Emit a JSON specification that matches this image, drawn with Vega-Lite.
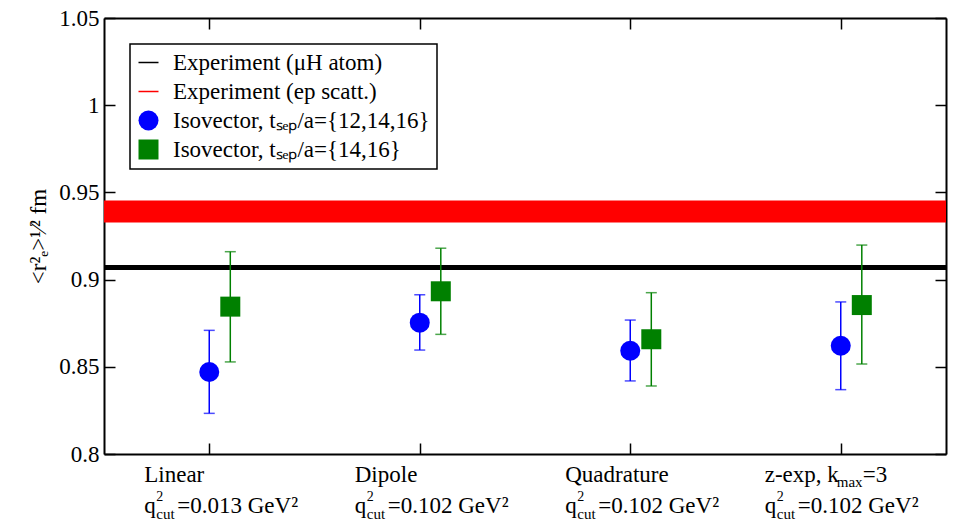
{
  "$schema": "https://vega.github.io/schema/vega-lite/v6.json",
  "width": 842,
  "height": 436,
  "autosize": "none",
  "padding": {"left": 104, "top": 18, "right": 9, "bottom": 75},
  "background": "white",
  "config": {
    "view": {"stroke": null},
    "font": "Liberation Serif",
    "text": {"font": "Liberation Serif"},
    "axis": {
      "grid": false,
      "domainColor": "black",
      "domainWidth": 2,
      "tickColor": "black",
      "tickWidth": 1.5,
      "tickSize": -11,
      "labelFont": "Liberation Serif",
      "labelFontSize": 23,
      "labelColor": "black",
      "titleFont": "Liberation Serif",
      "titleFontSize": 23,
      "titleColor": "black",
      "titleFontWeight": "normal"
    }
  },
  "datasets": {
    "points": [
      {"method": "Linear", "series": "Isovector, tₛₑₚ/a={12,14,16}", "x": 1.0, "r": 0.847, "lo": 0.8233, "hi": 0.8709},
      {"method": "Linear", "series": "Isovector, tₛₑₚ/a={14,16}", "x": 1.1, "r": 0.8845, "lo": 0.8528, "hi": 0.916},
      {"method": "Dipole", "series": "Isovector, tₛₑₚ/a={12,14,16}", "x": 2.0, "r": 0.8753, "lo": 0.8596, "hi": 0.8913},
      {"method": "Dipole", "series": "Isovector, tₛₑₚ/a={14,16}", "x": 2.1, "r": 0.8933, "lo": 0.8686, "hi": 0.918},
      {"method": "Quadrature", "series": "Isovector, tₛₑₚ/a={12,14,16}", "x": 3.0, "r": 0.8592, "lo": 0.8419, "hi": 0.8768},
      {"method": "Quadrature", "series": "Isovector, tₛₑₚ/a={14,16}", "x": 3.1, "r": 0.8658, "lo": 0.839, "hi": 0.8925},
      {"method": "z-exp", "series": "Isovector, tₛₑₚ/a={12,14,16}", "x": 4.0, "r": 0.8621, "lo": 0.8369, "hi": 0.8872},
      {"method": "z-exp", "series": "Isovector, tₛₑₚ/a={14,16}", "x": 4.1, "r": 0.8854, "lo": 0.8516, "hi": 0.9198}
    ],
    "methods": [
      {"pos": 1, "name": "Linear", "sub": "", "rest": "", "q": "=0.013 GeV²"},
      {"pos": 2, "name": "Dipole", "sub": "", "rest": "", "q": "=0.102 GeV²"},
      {"pos": 3, "name": "Quadrature", "sub": "", "rest": "", "q": "=0.102 GeV²"},
      {"pos": 4, "name": "z-exp, k", "sub": "max", "rest": "=3", "q": "=0.102 GeV²"}
    ]
  },
  "layer": [
    {
      "data": {"values": [{"series": "Experiment (ep scatt.)", "lo": 0.9327, "hi": 0.9453}]},
      "mark": {"type": "rect"},
      "encoding": {
        "y": {
          "field": "lo", "type": "quantitative",
          "scale": {"domain": [0.8, 1.05], "nice": false, "zero": false},
          "axis": {
            "orient": "left",
            "values": [0.8, 0.85, 0.9, 0.95, 1, 1.05],
            "format": "~g",
            "labelPadding": 16,
            "title": "<r²ₑ>¹⁄² fm",
            "titlePadding": 8
          }
        },
        "y2": {"field": "hi"},
        "color": {
          "field": "series", "type": "nominal",
          "scale": {
            "domain": ["Experiment (μH atom)", "Experiment (ep scatt.)", "Isovector, tₛₑₚ/a={12,14,16}", "Isovector, tₛₑₚ/a={14,16}"],
            "range": ["#000000", "#ff0000", "#0000ff", "#008000"]
          },
          "legend": {
            "orient": "none",
            "legendX": 26,
            "legendY": 26,
            "title": null,
            "labelFont": "Liberation Serif",
            "labelFontSize": 23,
            "labelColor": "black",
            "labelLimit": 500,
            "strokeColor": "black",
            "padding": 7,
            "rowPadding": 5,
            "labelOffset": 13,
            "encode": {
              "legend": {"update": {"strokeWidth": {"value": 1.5}}},
              "symbols": {
                "update": {
                  "fill": {"signal": "datum.index < 2 ? 'transparent' : scale('color', datum.value)"},
                  "stroke": {"signal": "scale('color', datum.value)"},
                  "strokeWidth": {"signal": "datum.index < 2 ? 1.5 : 0"},
                  "size": {"signal": "datum.index == 3 ? 256 : 484"},
                  "opacity": {"value": 1}
                }
              }
            }
          }
        }
      }
    },
    {
      "data": {"values": [{"series": "Experiment (μH atom)", "r": 0.907}]},
      "mark": {"type": "rule", "strokeWidth": 5},
      "encoding": {
        "y": {"field": "r", "type": "quantitative", "axis": null},
        "color": {"field": "series", "type": "nominal"}
      }
    },
    {
      "data": {"name": "points"},
      "mark": {"type": "rule", "strokeWidth": 1.5},
      "encoding": {
        "x": {
          "field": "x", "type": "quantitative",
          "scale": {"domain": [0.5, 4.5], "nice": false, "zero": false},
          "axis": {"orient": "bottom", "values": [1, 2, 3, 4], "labels": false, "title": null}
        },
        "y": {"field": "lo", "type": "quantitative", "axis": null},
        "y2": {"field": "hi"},
        "color": {"field": "series", "type": "nominal"}
      }
    },
    {
      "data": {"name": "points"},
      "mark": {"type": "tick", "orient": "horizontal", "size": 11, "thickness": 1.5},
      "encoding": {
        "x": {"field": "x", "type": "quantitative", "axis": null},
        "y": {"field": "lo", "type": "quantitative", "axis": null},
        "color": {"field": "series", "type": "nominal"}
      }
    },
    {
      "data": {"name": "points"},
      "mark": {"type": "tick", "orient": "horizontal", "size": 11, "thickness": 1.5},
      "encoding": {
        "x": {"field": "x", "type": "quantitative", "axis": null},
        "y": {"field": "hi", "type": "quantitative", "axis": null},
        "color": {"field": "series", "type": "nominal"}
      }
    },
    {
      "data": {"name": "points"},
      "mark": {"type": "point", "filled": true, "opacity": 1},
      "encoding": {
        "x": {
          "field": "x", "type": "quantitative",
          "axis": {"orient": "top", "values": [1, 2, 3, 4], "labels": false, "title": null}
        },
        "y": {
          "field": "r", "type": "quantitative",
          "axis": {"orient": "right", "values": [0.8, 0.85, 0.9, 0.95, 1, 1.05], "labels": false, "title": null}
        },
        "color": {"field": "series", "type": "nominal"},
        "shape": {
          "field": "series", "type": "nominal",
          "scale": {
            "domain": ["Experiment (μH atom)", "Experiment (ep scatt.)", "Isovector, tₛₑₚ/a={12,14,16}", "Isovector, tₛₑₚ/a={14,16}"],
            "range": ["stroke", "stroke", "circle", "square"]
          }
        },
        "size": {
          "field": "series", "type": "nominal",
          "scale": {
            "domain": ["Experiment (μH atom)", "Experiment (ep scatt.)", "Isovector, tₛₑₚ/a={12,14,16}", "Isovector, tₛₑₚ/a={14,16}"],
            "range": [400, 400, 361, 225]
          },
          "legend": null
        }
      }
    },
    {
      "data": {"name": "methods"},
      "mark": {"type": "text", "align": "left", "baseline": "alphabetic", "font": "Liberation Serif", "fontSize": 23, "color": "black", "dx": {"expr": "datum.pos == 4 ? -76 : -65"}, "dy": 28},
      "encoding": {
        "x": {"field": "pos", "type": "quantitative", "axis": null},
        "y": {"datum": 0.8, "type": "quantitative", "axis": null},
        "text": {"field": "name"}
      }
    },
    {
      "data": {"name": "methods"},
      "mark": {"type": "text", "align": "left", "baseline": "alphabetic", "font": "Liberation Serif", "fontSize": 15, "color": "black", "dx": -4, "dy": 33},
      "encoding": {
        "x": {"field": "pos", "type": "quantitative", "axis": null},
        "y": {"datum": 0.8, "type": "quantitative", "axis": null},
        "text": {"field": "sub"}
      }
    },
    {
      "data": {"name": "methods"},
      "mark": {"type": "text", "align": "left", "baseline": "alphabetic", "font": "Liberation Serif", "fontSize": 23, "color": "black", "dx": 22, "dy": 28},
      "encoding": {
        "x": {"field": "pos", "type": "quantitative", "axis": null},
        "y": {"datum": 0.8, "type": "quantitative", "axis": null},
        "text": {"field": "rest"}
      }
    },
    {
      "data": {"name": "methods"},
      "mark": {"type": "text", "align": "left", "baseline": "alphabetic", "font": "Liberation Serif", "fontSize": 23, "color": "black", "dx": {"expr": "datum.pos == 4 ? -76 : -65"}, "dy": 59},
      "encoding": {
        "x": {"field": "pos", "type": "quantitative", "axis": null},
        "y": {"datum": 0.8, "type": "quantitative", "axis": null},
        "text": {"value": "q"}
      }
    },
    {
      "data": {"name": "methods"},
      "mark": {"type": "text", "align": "left", "baseline": "alphabetic", "font": "Liberation Serif", "fontSize": 14, "color": "black", "dx": {"expr": "datum.pos == 4 ? -64 : -53"}, "dy": 47},
      "encoding": {
        "x": {"field": "pos", "type": "quantitative", "axis": null},
        "y": {"datum": 0.8, "type": "quantitative", "axis": null},
        "text": {"value": "2"}
      }
    },
    {
      "data": {"name": "methods"},
      "mark": {"type": "text", "align": "left", "baseline": "alphabetic", "font": "Liberation Serif", "fontSize": 15, "color": "black", "dx": {"expr": "datum.pos == 4 ? -64 : -53"}, "dy": 65},
      "encoding": {
        "x": {"field": "pos", "type": "quantitative", "axis": null},
        "y": {"datum": 0.8, "type": "quantitative", "axis": null},
        "text": {"value": "cut"}
      }
    },
    {
      "data": {"name": "methods"},
      "mark": {"type": "text", "align": "left", "baseline": "alphabetic", "font": "Liberation Serif", "fontSize": 23, "color": "black", "dx": {"expr": "datum.pos == 4 ? -43 : -32"}, "dy": 59},
      "encoding": {
        "x": {"field": "pos", "type": "quantitative", "axis": null},
        "y": {"datum": 0.8, "type": "quantitative", "axis": null},
        "text": {"field": "q"}
      }
    }
  ],
  "resolve": {"axis": {"x": "independent", "y": "independent"}}
}
